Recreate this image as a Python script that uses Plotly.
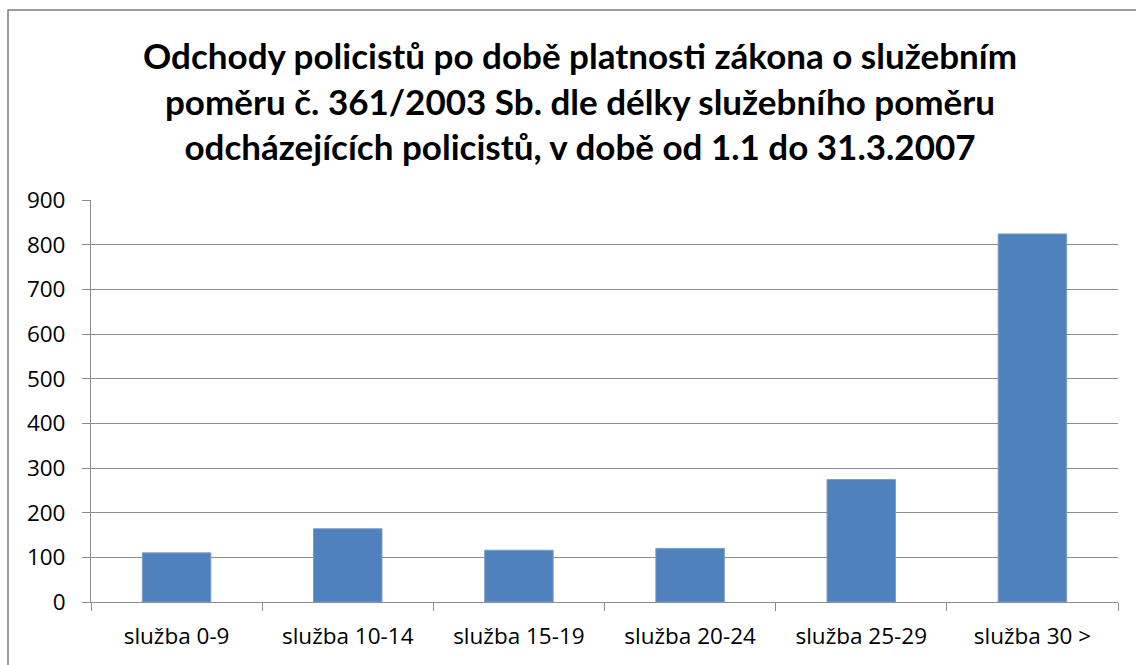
import plotly.graph_objects as go

categories = ["služba 0-9", "služba 10-14", "služba 15-19", "služba 20-24", "služba 25-29", "služba 30 >"]
values = [110, 164, 116, 120, 274, 824]
title_lines = [
    "Odchody policistů po době platnosti zákona o služebním",
    "poměru č. 361/2003 Sb. dle délky služebního poměru",
    "odcházejících policistů, v době od 1.1 do 31.3.2007",
]

W, H = 1136, 665
ml, mr, mt, mb = 91, 18, 200, 63
pw, ph = W - ml - mr, H - mt - mb

fig = go.Figure(go.Bar(x=categories, y=values, marker=dict(color="#4F81BD", line=dict(color="#7A9CCB", width=1))))

grid = "#8C8C8C"
fig.update_layout(
    width=W, height=H,
    margin=dict(l=ml, r=mr, t=mt, b=mb),
    paper_bgcolor="white", plot_bgcolor="white",
    bargap=0.6,
    showlegend=False,
    font=dict(family="Open Sans, sans-serif", color="black"),
    title=dict(
        text="<br>".join(title_lines),
        x=580 / W, xref="container", xanchor="center",
        y=1 - 69 / H, yref="container", yanchor="top",
        font=dict(family="Lato, sans-serif", size=35, color="black", weight="bold"),
    ),
    xaxis=dict(
        showline=True, linecolor=grid, linewidth=1,
        ticks="outside", ticklen=8, tickcolor=grid, tickson="boundaries",
        tickfont=dict(size=22.5), showgrid=False, ticklabelstandoff=14,
    ),
    yaxis=dict(
        range=[0, 900], dtick=100, showline=True, linecolor=grid, linewidth=1,
        ticks="outside", ticklen=8, tickcolor=grid,
        showgrid=True, gridcolor=grid, gridwidth=1,
        tickfont=dict(size=22.5), ticklabelstandoff=12, zeroline=False,
    ),
)

# chart border (Excel-style chart frame)
fig.add_shape(
    type="rect", xref="paper", yref="paper",
    x0=(8 - ml) / pw, x1=(W + 10 - ml) / pw,
    y0=-(H + 10 - (mt + ph)) / ph, y1=(mt + ph - 10) / ph,
    line=dict(color="#7F7F7F", width=1.5), fillcolor="rgba(0,0,0,0)", layer="above",
)

fig.write_html(
    "out.html",
    config={"displayModeBar": False},
    post_script="document.body.style.margin='0';document.body.style.overflow='hidden';",
)
